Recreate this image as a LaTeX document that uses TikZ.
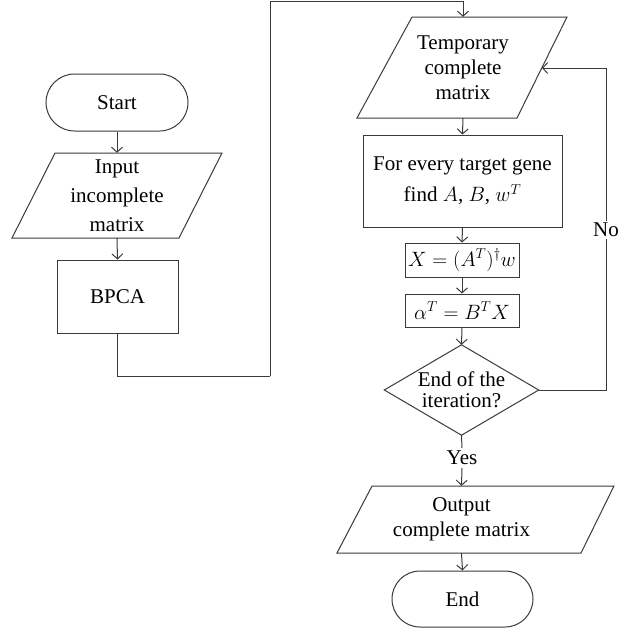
\documentclass[tikz,border=0pt]{standalone}
\usepackage{fontspec}
\setmainfont{Liberation Serif}
\usetikzlibrary{arrows.meta,shapes.misc}
\definecolor{ln}{HTML}{3A3A3A}
\begin{document}
\begin{tikzpicture}[x=1pt,y=-1pt,
  txt/.style={font=\fontsize{21}{25}\selectfont, align=center, inner sep=0pt, text=black},
  box/.style={txt, draw=ln, line width=1pt, rectangle},
  term/.style={txt, draw=ln, line width=1pt, rounded rectangle},
  sh/.style={draw=ln, line width=1pt, line join=miter},
  ln/.style={draw=ln, line width=1pt},
  arr/.style={ln, -{Straight Barb[length=5pt,width=11pt]}}]
\useasboundingbox (0,0) rectangle (633,632);
% left column
\node[term, minimum width=142pt, minimum height=57pt] (start) at (117,102.5) {Start};
\node[txt, minimum width=120pt, minimum height=85pt] (in) at (117,195.5) {Input\\[4pt]incomplete\\[4pt]matrix};
\draw[sh] (55,153) -- (222,153) -- (179,238) -- (12,238) -- cycle;
\node[box, minimum width=121pt, minimum height=73pt] (bpca) at (117.5,296.5) {BPCA};
% right column
\node[txt, minimum width=110pt, minimum height=101pt] (tmp) at (463,67.5) {Temporary\\complete\\matrix};
\draw[sh] (412,17) -- (567,17) -- (517,118) -- (357,118) -- cycle;
\node[box, minimum width=199pt, minimum height=92pt] (fe) at (462.5,181) {For every target gene\\[6pt]find $A$, $B$, $w^T$};
\node[box, minimum width=114pt, minimum height=34pt] (xb) at (462,260) {$X = (A^T)^{\dagger} w$};
\node[box, minimum width=114pt, minimum height=33pt] (ab) at (462,310.5) {$\alpha^T = B^T X$};
\node[txt, minimum width=154pt, minimum height=90pt, font=\fontsize{21}{21}\selectfont] (dec) at (461.5,390) {End of the\\iteration?};
\draw[sh] (dec.north) -- (dec.east) -- (dec.south) -- (dec.west) -- cycle;
\node[txt, minimum width=200pt, minimum height=67pt] (out) at (461.5,519.5) {Output\\complete matrix};
\draw[sh] (372,486) -- (614,486) -- (581,553) -- (337,553) -- cycle;
\node[term, minimum width=141pt, minimum height=56pt] (end) at (462.5,599) {End};
% connectors
\coordinate (c2) at (270,376);
\coordinate (c4) at (463,1);
\coordinate (n1) at (606,390);
\coordinate (n2) at (606,68);
\coordinate (tr) at (542,68);
\draw[arr] (start.south) -- (in.north);
\draw[arr] (in.south) -- (bpca.north);
\draw[ln] (bpca.south) |- (c2);
\draw[arr] (c2) |- (c4) -- (tmp.north);
\draw[arr] (tmp.south) -- (fe.north);
\draw[arr] (fe.south) -- (xb.north);
\draw[arr] (xb.south) -- (ab.north);
\draw[arr] (ab.south) -- (dec.north);
\draw[arr] (dec.east) -- (n1) -- (n2) -- (tr);
\node[txt, fill=white, inner sep=2pt] (no) at (606,230) {No};
\node[txt, inner sep=3pt] (yes) at (462,458) {Yes};
\draw[ln] (dec.south) -- (yes.north);
\draw[arr] (yes.south) -- (out.north);
\draw[arr] (out.south) -- (end.north);
\end{tikzpicture}
\end{document}
